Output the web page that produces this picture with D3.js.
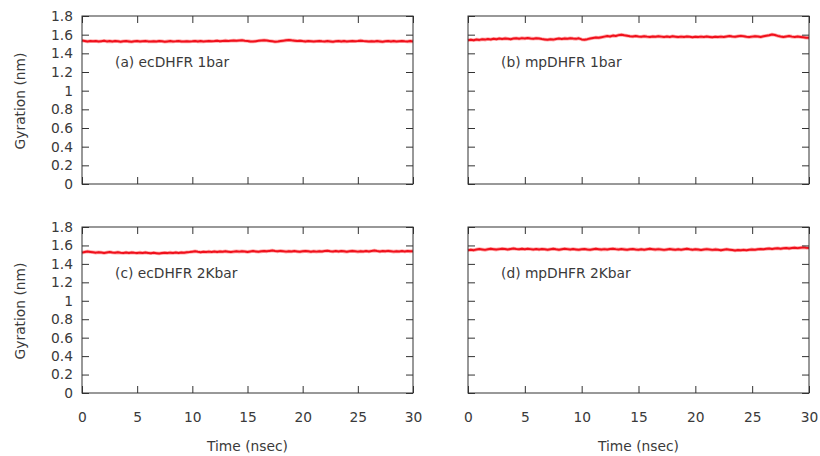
<!DOCTYPE html>
<html>
<head>
<script src="https://cdnjs.cloudflare.com/ajax/libs/d3/7.8.5/d3.min.js"></script>
<style>
  body { margin: 0; background: #fff; }
  text { font-family: "DejaVu Sans", Verdana, sans-serif; fill: #3a3a3a; }
</style>
</head>
<body>
<svg id="chart" width="820" height="456"></svg>
<script>
var step = 0.25;

var ecDHFR1bar = [
  1.538,1.533,1.527,1.531,1.529,1.532,1.526,1.530,1.534,1.528,1.531,1.527,1.533,1.529,1.525,1.530,1.532,1.528,1.524,1.529,
  1.531,1.527,1.530,1.533,1.528,1.526,1.530,1.527,1.532,1.529,1.525,1.528,1.531,1.527,1.529,1.532,1.528,1.526,1.530,1.527,
  1.529,1.532,1.528,1.531,1.527,1.530,1.533,1.529,1.531,1.534,1.530,1.533,1.536,1.532,1.535,1.538,1.534,1.537,1.540,1.535,
  1.532,1.528,1.526,1.530,1.534,1.538,1.541,1.537,1.533,1.529,1.525,1.527,1.531,1.535,1.539,1.543,1.539,1.536,1.532,1.535,
  1.531,1.528,1.532,1.529,1.526,1.530,1.533,1.529,1.527,1.531,1.528,1.525,1.529,1.532,1.528,1.531,1.527,1.530,1.533,1.529,
  1.532,1.536,1.532,1.529,1.526,1.530,1.527,1.531,1.528,1.525,1.529,1.532,1.528,1.531,1.527,1.530,1.533,1.529,1.527,1.531,
  1.528];

var mpDHFR1bar = [
  1.540,1.545,1.541,1.548,1.544,1.550,1.547,1.553,1.549,1.556,1.552,1.558,1.554,1.560,1.556,1.552,1.558,1.562,1.557,1.563,
  1.559,1.565,1.560,1.556,1.562,1.558,1.553,1.549,1.545,1.551,1.547,1.553,1.558,1.554,1.560,1.556,1.562,1.558,1.555,1.561,
  1.549,1.546,1.552,1.559,1.565,1.570,1.566,1.573,1.579,1.585,1.581,1.590,1.586,1.595,1.600,1.594,1.589,1.584,1.580,1.585,
  1.581,1.578,1.583,1.579,1.576,1.581,1.577,1.583,1.579,1.575,1.580,1.576,1.582,1.578,1.574,1.579,1.576,1.581,1.577,1.573,
  1.578,1.574,1.579,1.575,1.580,1.576,1.572,1.577,1.574,1.579,1.575,1.581,1.585,1.580,1.577,1.582,1.587,1.583,1.578,1.574,
  1.579,1.584,1.580,1.576,1.582,1.588,1.593,1.602,1.596,1.587,1.581,1.576,1.581,1.585,1.579,1.575,1.580,1.576,1.572,1.568,
  1.566];

var ecDHFR2Kbar = [
  1.522,1.528,1.534,1.530,1.526,1.522,1.527,1.523,1.519,1.524,1.528,1.523,1.520,1.525,1.521,1.518,1.523,1.519,1.524,1.520,
  1.517,1.522,1.518,1.523,1.519,1.515,1.520,1.516,1.512,1.517,1.521,1.517,1.522,1.518,1.523,1.519,1.524,1.520,1.525,1.528,
  1.532,1.536,1.531,1.527,1.532,1.528,1.533,1.529,1.534,1.530,1.535,1.531,1.536,1.532,1.528,1.533,1.537,1.533,1.538,1.534,
  1.530,1.535,1.539,1.535,1.531,1.536,1.540,1.536,1.541,1.545,1.540,1.536,1.541,1.537,1.533,1.538,1.534,1.539,1.535,1.531,
  1.536,1.540,1.536,1.532,1.537,1.533,1.538,1.534,1.539,1.543,1.538,1.534,1.539,1.535,1.540,1.536,1.532,1.537,1.541,1.537,
  1.533,1.538,1.534,1.539,1.535,1.540,1.544,1.539,1.535,1.540,1.536,1.541,1.537,1.533,1.538,1.534,1.539,1.535,1.540,1.536,
  1.538];

var mpDHFR2Kbar = [
  1.548,1.553,1.549,1.556,1.561,1.557,1.552,1.558,1.563,1.559,1.555,1.560,1.565,1.561,1.557,1.562,1.567,1.562,1.558,1.563,
  1.559,1.564,1.560,1.556,1.561,1.557,1.562,1.558,1.554,1.559,1.563,1.558,1.554,1.559,1.564,1.560,1.556,1.561,1.557,1.553,
  1.558,1.562,1.557,1.553,1.558,1.563,1.559,1.555,1.560,1.556,1.561,1.565,1.560,1.556,1.561,1.557,1.553,1.558,1.562,1.557,
  1.553,1.558,1.554,1.559,1.563,1.559,1.555,1.560,1.556,1.552,1.557,1.561,1.557,1.553,1.558,1.554,1.559,1.563,1.558,1.554,
  1.559,1.555,1.551,1.556,1.560,1.556,1.552,1.557,1.553,1.549,1.554,1.558,1.554,1.550,1.546,1.551,1.547,1.552,1.548,1.553,
  1.557,1.553,1.558,1.562,1.558,1.563,1.567,1.562,1.566,1.570,1.565,1.569,1.573,1.568,1.572,1.576,1.571,1.575,1.579,1.574,
  1.572];

var labels = ["(a) ecDHFR 1bar", "(b) mpDHFR 1bar", "(c) ecDHFR 2Kbar", "(d) mpDHFR 2Kbar"];
var xTicks = [0, 5, 10, 15, 20, 25, 30];
var yTicks = [0, 0.2, 0.4, 0.6, 0.8, 1, 1.2, 1.4, 1.6, 1.8];

// panel boxes: left, right, top, bottom
var panels = [
  {data: ecDHFR1bar, label: labels[0], x0: 82, x1: 413, y0: 16, y1: 184, left: true, bottom: false},
  {data: mpDHFR1bar, label: labels[1], x0: 468, x1: 809, y0: 16, y1: 184, left: false, bottom: false},
  {data: ecDHFR2Kbar, label: labels[2], x0: 82, x1: 413, y0: 227, y1: 393, left: true, bottom: true},
  {data: mpDHFR2Kbar, label: labels[3], x0: 468, x1: 809, y0: 227, y1: 393, left: false, bottom: true}
];

var svg = d3.select("#chart");
var tickLen = 7;
var fontSize = "13.8px";

panels.forEach(function(p) {
  var x = d3.scaleLinear().domain([0, 30]).range([p.x0, p.x1]);
  var y = d3.scaleLinear().domain([0, 1.8]).range([p.y1, p.y0]);
  var g = svg.append("g");

  // data line, soft halo + core to get the fuzzy look
  var line = d3.line()
    .x(function(d, i) { return x(i * step); })
    .y(function(d) { return y(d); });
  g.append("path")
    .datum(p.data)
    .attr("d", line)
    .attr("fill", "none")
    .attr("stroke", "#f44")
    .attr("stroke-opacity", 0.45)
    .attr("stroke-width", 3.6)
    .attr("stroke-linejoin", "round");
  g.append("path")
    .datum(p.data)
    .attr("d", line)
    .attr("fill", "none")
    .attr("stroke", "#f0101c")
    .attr("stroke-width", 2)
    .attr("stroke-linejoin", "round");

  // inward ticks on all four sides
  var axisStyle = function(sel) {
    sel.select(".domain").remove();
    sel.selectAll("line").attr("stroke", "#333").attr("stroke-width", 1);
    sel.selectAll("text")
      .style("font-size", fontSize)
      .attr("fill", "#3a3a3a");
  };

  g.append("g")
    .attr("transform", "translate(0," + p.y1 + ")")
    .call(d3.axisBottom(x).tickValues(xTicks).tickSizeInner(-tickLen).tickSizeOuter(0).tickPadding(19)
      .tickFormat(p.bottom ? d3.format("d") : ""))
    .call(axisStyle);
  g.append("g")
    .attr("transform", "translate(0," + p.y0 + ")")
    .call(d3.axisTop(x).tickValues(xTicks).tickSizeInner(-tickLen).tickSizeOuter(0).tickFormat(""))
    .call(axisStyle);
  g.append("g")
    .attr("transform", "translate(" + p.x0 + ",0)")
    .call(d3.axisLeft(y).tickValues(yTicks).tickSizeInner(-tickLen).tickSizeOuter(0).tickPadding(9)
      .tickFormat(p.left ? function(d) { return d3.format("")(+d.toFixed(1)); } : ""))
    .call(axisStyle);
  g.append("g")
    .attr("transform", "translate(" + p.x1 + ",0)")
    .call(d3.axisRight(y).tickValues(yTicks).tickSizeInner(-tickLen).tickSizeOuter(0).tickFormat(""))
    .call(axisStyle);

  // frame
  g.append("rect")
    .attr("x", p.x0).attr("y", p.y0)
    .attr("width", p.x1 - p.x0).attr("height", p.y1 - p.y0)
    .attr("fill", "none").attr("stroke", "#333").attr("stroke-width", 1);

  // panel label
  g.append("text")
    .attr("x", p.x0 + 33)
    .attr("y", y(1.3))
    .attr("dy", "0.35em")
    .style("font-size", fontSize)
    .text(p.label);

  if (p.left) {
    g.append("text")
      .attr("transform", "translate(20," + ((p.y0 + p.y1) / 2 + 1) + ") rotate(-90)")
      .attr("text-anchor", "middle")
      .attr("dy", "0.35em")
      .style("font-size", fontSize)
      .text("Gyration (nm)");
  }
  if (p.bottom) {
    g.append("text")
      .attr("x", (p.x0 + p.x1) / 2)
      .attr("y", 446)
      .attr("text-anchor", "middle")
      .attr("dy", "0.35em")
      .style("font-size", fontSize)
      .text("Time (nsec)");
  }
});
</script>
</body>
</html>
